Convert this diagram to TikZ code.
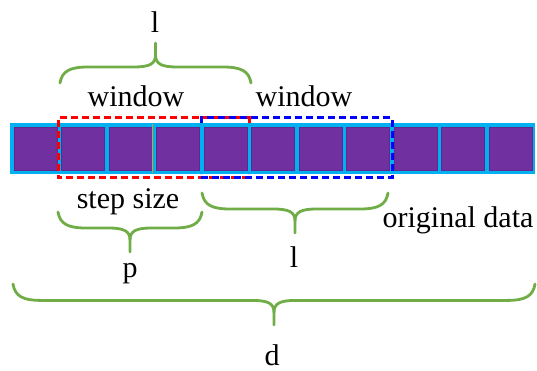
\documentclass[tikz,border=0pt]{standalone}
\usepackage{fontspec}
\setmainfont{Liberation Serif}
\definecolor{barblue}{RGB}{0,176,240}
\definecolor{cellpurple}{RGB}{112,48,160}
\definecolor{celledge}{RGB}{96,40,140}
\definecolor{bracegreen}{RGB}{112,173,71}
\definecolor{markorange}{RGB}{210,160,40}
\tikzset{
  bracestyle/.style={draw=bracegreen, line width=2.8pt, line cap=round, line join=round},
  cellbox/.style={fill=cellpurple, draw=celledge, line width=0.6pt},
  winred/.style={draw=red, line width=3pt, dash pattern=on 7pt off 4pt},
  winblue/.style={draw=blue, line width=3pt, dash pattern=on 7pt off 4pt},
  lbl/.style={anchor=base, inner sep=0pt, font=\fontsize{30}{36}\selectfont}
}
% curly brace: #1,#2 = x of the two ends, #3 = y of the ends, #4 = y of the tip
\newcommand\curlybrace[4]{%
  \pgfmathsetmacro\bxm{(#1+#2)/2}%
  \pgfmathsetmacro\byh{#3+0.4*(#4-#3)}%
  \pgfmathsetmacro\bys{(#4>#3) ? 1 : -1}%
  \pgfmathsetmacro\byc{#3+0.75*(\byh-#3)}%
  \path[bracestyle] (#1,#3) .. controls (#1+2,\byc) and (#1+10,\byh) .. (#1+28,\byh)
     -- (\bxm-22,\byh) .. controls (\bxm-6,\byh) and (\bxm,\byh+\bys*3) .. (\bxm,\byh+\bys*12)
     -- (\bxm,#4);
  \path[bracestyle] (#2,#3) .. controls (#2-2,\byc) and (#2-10,\byh) .. (#2-28,\byh)
     -- (\bxm+22,\byh) .. controls (\bxm+6,\byh) and (\bxm,\byh+\bys*3) .. (\bxm,\byh+\bys*12);
}
\begin{document}
\begin{tikzpicture}[x=1pt,y=-1pt]
  \useasboundingbox (0,0) rectangle (537,371);
  % data array
  \fill[barblue] (10,123) rectangle (535,174);
  \foreach \i in {0,...,10}{
    \path[cellbox] ({14+47.5*\i},127) rectangle ({57+47.5*\i},170);
  }
  \draw[markorange, line width=0.8pt] (152,124) -- (152,173);
  % sliding windows (the overlapping inner sides stay hidden by the array)
  \path[winred] (249,123) -- (249,118) -- (58,118) -- (58,178) -- (249,178) -- (249,174);
  \path[winblue] (201,123) -- (201,118) -- (392,118) -- (392,178) -- (201,178) -- (201,174);
  % braces
  \curlybrace{60}{251}{83}{43}
  \curlybrace{58}{202}{212}{252}
  \curlybrace{202}{388}{193}{233}
  \curlybrace{13}{535}{284}{325}
  % labels
  \node[lbl] (ltop) at (155,33) {l};
  \node[lbl] (win1) at (136,107) {window};
  \node[lbl] (win2) at (304,107) {window};
  \node[lbl] (step) at (128,208) {step size};
  \node[lbl] (pp) at (130,277) {p};
  \node[lbl] (lbot) at (294,267) {l};
  \node[lbl] (orig) at (458,227) {original data};
  \node[lbl] (dd) at (272,365) {d};
\end{tikzpicture}
\end{document}
